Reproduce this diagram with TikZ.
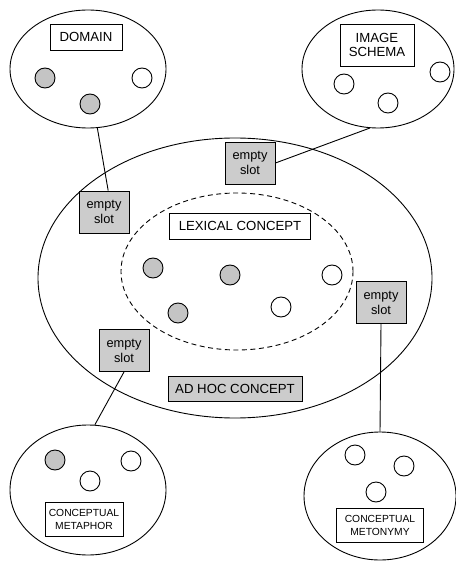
\documentclass[tikz,border=0pt]{standalone}
\usepackage{fontspec}
\setmainfont{Liberation Sans}
\usetikzlibrary{shapes.geometric}
\definecolor{slotgray}{HTML}{CCCCCC}
\definecolor{dotgray}{HTML}{C4C4C4}
\tikzset{
  outer/.style={draw, ellipse, inner sep=0pt, line width=0.9pt},
  label box/.style={draw, fill=white, line width=0.9pt, align=center, inner sep=0pt, font=\fontsize{13.2}{14}\selectfont},
  small box/.style={draw, fill=white, line width=0.9pt, align=center, inner sep=0pt, font=\fontsize{10.3}{13}\selectfont},
  slot/.style={draw, fill=slotgray, line width=0.9pt, align=center, inner sep=0pt, minimum width=50pt, minimum height=42pt, font=\fontsize{12.8}{15}\selectfont},
  gdot/.style={draw, circle, fill=dotgray, minimum size=20pt, inner sep=0pt, line width=0.9pt},
  wdot/.style={draw, circle, fill=white, minimum size=20pt, inner sep=0pt, line width=0.9pt},
  conn/.style={line width=0.9pt}
}
\begin{document}
\begin{tikzpicture}[x=1pt, y=-1pt]
\useasboundingbox (0,0) rectangle (455,561);
% main ellipse
\node[outer, minimum width=394pt, minimum height=280pt] (adhoc) at (235,278) {};
\node[outer, dash pattern=on 5pt off 3.5pt, minimum width=232pt, minimum height=157pt] (lex) at (237,271.5) {};
% domain
\node[outer, minimum width=156pt, minimum height=118pt] (dom) at (88,69) {};
\node[label box, minimum width=72pt, minimum height=26pt] (domlab) at (86,37) {DOMAIN};
\node[gdot] (d1) at (45,78) {};
\node[gdot] (d2) at (90,104) {};
\node[wdot] (d3) at (142,78) {};
% image schema
\node[outer, minimum width=152pt, minimum height=118pt] (img) at (378,69) {};
\node[label box, minimum width=74pt, minimum height=42pt] (imglab) at (377,45) {IMAGE\\SCHEMA};
\node[wdot] (i1) at (344,84) {};
\node[wdot] (i2) at (388,103) {};
\node[wdot] (i3) at (440,72) {};
% metaphor
\node[outer, minimum width=156pt, minimum height=130pt] (met) at (88,490) {};
\node[gdot] (m1) at (55,460) {};
\node[wdot] (m2) at (90,481) {};
\node[wdot] (m3) at (131,461) {};
\node[small box, minimum width=78pt, minimum height=34pt] (metlab) at (84,519) {CONCEPTUAL\\METAPHOR};
% metonymy
\node[outer, minimum width=152pt, minimum height=128pt] (mety) at (380,496) {};
\node[wdot] (n1) at (355,455) {};
\node[wdot] (n2) at (404,466) {};
\node[wdot] (n3) at (376,492) {};
\node[small box, minimum width=87pt, minimum height=34pt] (metylab) at (380,525) {CONCEPTUAL\\METONYMY};
% lexical concept contents
\node[label box, minimum width=141pt, minimum height=26pt] (lexlab) at (240,226) {LEXICAL CONCEPT};
\node[gdot] (l1) at (153,268) {};
\node[gdot] (l2) at (230,275) {};
\node[wdot] (l3) at (332,275) {};
\node[gdot] (l4) at (178,313) {};
\node[wdot] (l5) at (281,307) {};
% ad hoc label
\node[label box, fill=slotgray, minimum width=134pt, minimum height=25pt] (adlab) at (235,388.5) {AD HOC CONCEPT};
% slots
\node[slot] (s1) at (104,212) {empty\\slot};
\node[slot] (s2) at (250,163) {empty\\slot};
\node[slot] (s3) at (381,302.5) {empty\\slot};
\node[slot] (s4) at (124,350.5) {empty\\slot};
% connectors
\draw[conn] (s1.79) -- (dom.-81);
\draw[conn] (s2.east) -- (img.-98);
\draw[conn] (s3.south) -- (mety.north);
\draw[conn] (s4.south) -- (met.84);
\end{tikzpicture}
\end{document}
